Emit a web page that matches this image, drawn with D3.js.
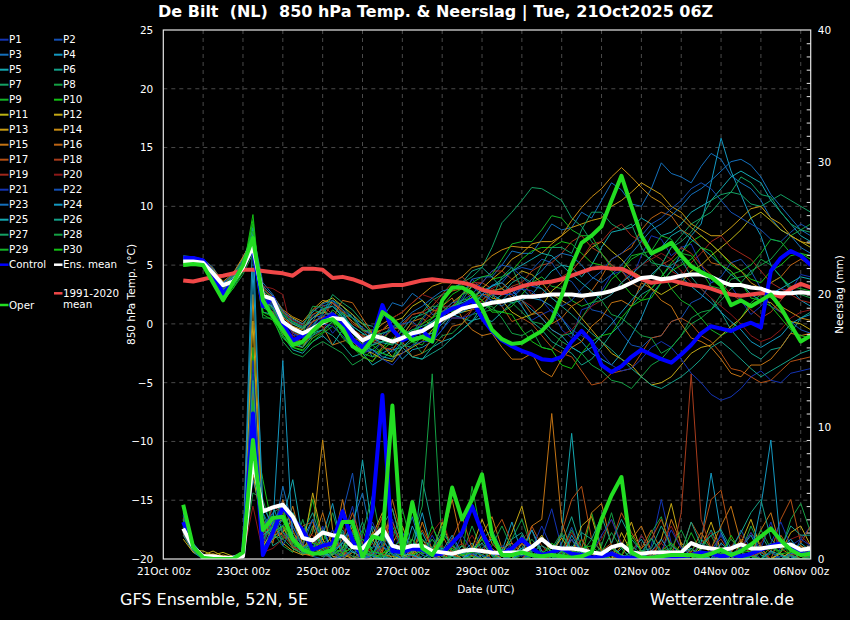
<!DOCTYPE html>
<html>
<head>
<meta charset="utf-8">
<script src="https://cdn.jsdelivr.net/npm/d3@7"></script>
<style>
  body { margin: 0; background: #000; }
  svg { display: block; }
  text { font-family: "DejaVu Sans", sans-serif; fill: #fff; }
</style>
</head>
<body>
<svg id="chart" width="850" height="620"></svg>
<script>
// forecast hours since 21Oct 00z, 6-hourly
const HOURS = [12,18,24,30,36,42,48,54,60,66,72,78,84,90,96,102,108,114,120,126,132,138,144,150,156,162,168,174,180,186,
  192,198,204,210,216,222,228,234,240,246,252,258,264,270,276,282,288,294,300,306,312,318,324,330,336,342,348,354,360,366,
  372,378,384,390];

const TICK_HOURS = [0,48,96,144,192,240,288,336,384];
const TICK_LABELS = ["21Oct 00z","23Oct 00z","25Oct 00z","27Oct 00z","29Oct 00z","31Oct 00z","02Nov 00z","04Nov 00z","06Nov 00z"];
const TEMP_TICKS = [-20,-15,-10,-5,0,5,10,15,20,25];
const RAIN_TICKS = [0,10,20,30,40];

// 850 hPa temperature (°C)
const ENS_MEAN_T = [5.3,5.3,5.2,4.3,3.3,3.6,4.8,6.6,2.4,2.1,0.2,-0.4,-0.8,-0.4,0.1,0.5,0.4,-0.6,-1.4,-1.0,
  -1.2,-1.5,-1.2,-0.8,-0.6,-0.1,0.4,0.8,1.3,1.5,1.6,1.8,1.9,2.1,2.3,2.3,2.4,2.5,2.5,2.5,
  2.4,2.5,2.6,2.8,3.1,3.5,3.9,4.0,3.8,3.9,4.1,4.2,4.2,4.0,3.6,3.3,3.3,3.1,3.0,2.7,2.6,2.6,2.7,2.6];
const CLIM_T = [3.7,3.6,3.8,4.0,4.1,4.3,4.6,4.6,4.5,4.4,4.3,4.1,4.7,4.7,4.6,3.9,4.0,3.8,3.5,3.1,
  3.2,3.3,3.3,3.5,3.7,3.8,3.7,3.6,3.5,3.3,2.9,2.7,2.6,2.9,3.2,3.4,3.5,3.6,3.8,4.1,
  4.4,4.7,4.8,4.7,4.7,4.3,3.8,3.5,3.6,3.7,3.5,3.3,3.2,3.0,2.7,2.5,2.4,2.5,2.6,2.6,2.3,3.0,3.4,3.1];
const CONTROL_T = [5.6,5.6,5.4,4.2,2.6,3.5,5.0,6.4,1.5,2.2,0.0,-1.4,-1.0,-0.5,0.3,0.8,0.1,-1.3,-2.0,-1.2,
  1.6,-0.5,-1.4,-1.0,-0.5,-1.5,0.8,1.3,1.5,2.0,0.5,-0.6,-1.4,-1.9,-2.3,-2.6,-3.0,-3.1,-2.8,-1.5,
  -0.6,-1.5,-3.5,-4.1,-3.6,-2.8,-2.2,-2.6,-3.0,-3.3,-2.6,-1.8,-0.8,-0.2,-0.4,-0.6,-0.2,0.1,-0.3,4.5,5.6,6.2,5.8,5.0];
const OPER_T = [5.0,5.1,5.0,3.5,2.0,3.5,5.0,7.3,2.0,0.6,-0.5,-1.8,-1.5,-0.6,0.2,0.4,-0.4,-1.9,-2.4,-1.3,
  1.0,0.4,-0.5,-1.4,-1.1,-1.5,2.0,3.1,3.1,2.6,1.3,-0.5,-1.3,-1.7,-1.6,-1.1,-0.6,0.3,2.4,5.0,
  6.9,7.5,8.3,10.5,12.6,10.0,7.5,6.0,6.4,6.9,5.8,4.9,4.4,4.0,3.3,1.6,2.0,1.5,2.0,2.5,1.4,-0.1,-1.5,-1.0];

// precipitation (mm)
const ENS_MEAN_R = [2.3,0.9,0.2,0.2,0.1,0.1,0.2,7.5,3.6,3.9,4.1,3.2,1.6,1.4,2.0,1.8,1.7,0.9,0.8,1.6,
  2.3,1.0,0.8,1.0,1.0,0.6,0.5,0.4,0.6,0.7,0.6,0.5,0.45,0.5,0.5,0.9,1.5,0.9,0.8,0.8,
  0.7,0.5,0.4,0.9,1.1,0.5,0.4,0.5,0.5,0.5,0.5,1.2,0.9,0.8,0.7,0.8,1.1,0.8,0.8,0.9,1.0,1.1,0.7,0.8];
const CONTROL_R = [2.8,0.9,0.1,0.0,0.0,0.1,0.3,11.0,0.3,2.0,3.9,3.0,2.2,0.7,1.0,1.2,3.6,1.4,0.1,3.7,
  12.4,0.6,0.5,0.8,0.7,0.3,0.4,1.2,2.0,4.0,2.0,0.5,0.4,0.8,1.5,0.8,0.3,0.5,0.8,0.4,
  0.3,0.1,0.2,0.4,0.1,0.1,0.1,0.1,0.2,0.1,0.2,0.3,0.5,0.4,0.2,0.3,0.2,0.4,0.7,1.0,1.2,0.9,0.4,0.4];
const OPER_R = [4.1,0.9,0.1,0.0,0.0,0.0,0.5,9.0,2.2,3.1,3.2,1.5,0.7,0.4,0.45,0.7,2.8,2.8,0.1,1.7,
  1.5,11.6,0.4,4.3,0.8,0.3,1.5,5.4,3.0,4.5,6.4,1.8,0.3,0.3,0.5,0.3,0.2,0.3,0.2,0.1,
  0.2,0.5,3.0,4.8,6.2,0.5,0.1,0.1,0.2,0.3,0.3,0.3,0.2,0.4,0.7,0.3,0.6,1.1,1.7,2.3,1.4,0.7,0.3,0.4];

// perturbed members: temperature (_T) and precipitation (_R)
const P1_T = [5.6,5.5,5.4,4.5,3.2,4.0,5.2,6.8,2.8,2.0,0.5,-0.8,-1.2,0.8,0.5,-0.8,0.2,-0.2,-2.0,-2.5,-1.5,0.2,-0.8,-1.2,0.3,1.5,1.0,0.8,2.2,3.8,3.0,1.8,2.5,3.2,1.5,0.3,0.8,1.2,-0.5,-1.2,1.2,1.5,2.8,4.2,4.5,3.8,5.8,7.5,7.2,5.8,6.5,6.8,5.0,3.5,3.8,3.2,2.0,0.8,1.5,2.6,3.0,2.8,4.2,4.0];
const P1_R = [2.5,0.8,0.1,0.0,0.0,0.1,0.2,9.0,1.5,3.0,2.5,1.0,0.5,0.8,2.5,0.3,1.5,4.0,0.5,0.0,1.2,3.0,0.4,0.0,0.2,1.8,0.3,0.0,0.0,0.5,2.2,0.6,0.0,0.0,0.3,0.0,1.5,3.8,0.8,0.0,0.2,0.0,0.0,0.6,0.2,0.0,0.0,1.0,4.5,1.2,0.0,0.3,0.0,0.0,2.0,0.5,0.0,0.0,0.8,2.8,0.4,0.0,1.5,2.5];
const P2_T = [5.3,5.4,5.2,4.0,2.6,3.5,4.8,7.5,1.8,1.2,-0.5,-1.0,-0.8,-0.2,1.0,2.0,0.8,-0.6,-1.2,-0.8,-2.0,-2.4,-1.5,-0.6,-1.0,-0.8,0.5,1.5,1.8,1.2,2.5,3.3,3.5,4.5,4.8,4.6,5.5,5.2,4.0,3.6,2.5,1.2,1.0,0.5,-0.8,-1.8,-2.0,-1.2,-1.0,0.2,0.5,1.8,2.2,3.5,4.0,5.2,5.5,4.5,3.0,1.5,1.0,0.2,-0.5,-0.8];
const P2_R = [3.0,1.0,0.2,0.1,0.0,0.0,0.3,14.0,0.5,2.0,4.5,2.0,1.0,0.2,0.0,1.0,3.5,6.5,1.0,0.3,0.0,0.5,2.0,0.8,0.0,0.0,0.4,1.6,0.2,0.0,0.0,0.0,0.3,1.2,0.4,0.0,0.0,0.0,0.6,2.4,0.5,0.0,0.0,0.0,0.2,0.0,1.8,0.6,0.0,0.0,0.0,0.3,0.0,0.0,0.0,0.5,2.2,0.7,0.0,0.0,0.2,0.0,0.8,0.3];
const P3_T = [5.8,5.7,5.5,4.8,3.5,4.2,5.5,7.8,3.5,2.5,1.0,0.2,-0.2,0.2,1.5,1.8,0.5,0.8,-0.5,-1.0,0.5,1.8,1.5,2.6,2.0,0.8,1.0,1.5,2.5,3.8,4.0,4.0,5.0,6.2,6.0,6.0,7.2,8.5,8.0,8.2,9.5,9.0,10.5,12.0,11.4,10.2,10.0,11.5,13.7,12.8,12.5,12.0,13.4,14.5,14.0,12.6,12.0,11.5,10.5,9.0,8.0,7.5,6.5,6.0];
const P3_R = [2.0,0.6,0.0,0.0,0.0,0.2,0.5,6.0,3.0,1.5,5.5,2.5,0.8,1.5,0.4,0.0,0.8,2.8,5.0,1.2,0.0,0.0,1.0,3.2,0.6,0.0,0.0,0.2,0.0,0.9,0.3,0.0,0.0,0.0,0.0,0.4,0.0,0.0,0.0,0.2,0.0,0.0,0.0,0.5,0.0,0.0,0.0,0.0,0.3,0.0,0.0,0.0,0.6,0.0,0.0,0.0,0.0,0.4,0.0,0.0,0.0,0.2,0.0,0.0];
const P4_T = [5.5,5.6,5.3,4.2,3.0,3.6,4.5,6.5,2.0,1.5,0.0,-1.5,-2.0,-0.8,-0.5,0.2,1.0,-0.5,-1.5,-2.8,-2.5,-2.0,-3.0,-2.2,-2.0,-1.5,-0.5,0.8,0.5,0.2,1.5,2.5,2.0,2.8,3.0,2.2,2.0,1.5,0.5,-0.8,-1.5,-2.5,-3.0,-3.5,-2.5,-1.0,0.5,2.5,3.5,4.5,6.0,7.5,8.5,12.0,15.8,13.0,11.0,9.0,7.5,5.0,4.0,3.0,2.0,1.5];
const P4_R = [3.5,1.2,0.3,0.1,0.0,0.0,0.4,25.0,2.0,4.0,2.0,1.5,0.5,0.5,1.8,4.2,0.6,0.0,0.3,2.5,1.0,0.0,0.0,0.8,3.5,0.5,0.0,0.2,1.0,0.2,0.0,0.0,0.6,2.8,0.4,0.0,0.0,0.0,0.3,1.5,0.2,0.0,0.0,0.0,0.8,0.0,0.0,0.0,0.0,0.5,0.0,0.3,1.2,6.5,2.0,0.4,0.0,0.0,0.6,0.0,0.0,0.3,0.8,0.2];
const P5_T = [5.2,5.3,5.1,3.8,2.4,3.2,4.6,8.0,1.0,0.8,-1.0,-2.2,-2.5,-1.5,-1.0,-1.8,-0.5,-1.0,-2.5,-3.5,-3.0,-2.2,-2.0,-2.8,-3.0,-2.0,-1.5,-1.2,-0.5,0.3,0.5,0.2,1.0,1.8,2.0,2.5,3.5,4.5,5.0,4.8,4.0,5.0,6.5,7.8,8.0,8.2,9.0,8.5,7.5,7.8,8.5,9.5,10.0,10.5,11.5,12.5,13.0,12.5,12.0,10.5,9.5,8.5,7.5,7.0];
const P5_R = [1.8,0.5,0.0,0.1,0.0,0.1,0.2,11.0,0.8,2.5,3.0,6.0,1.5,3.0,0.8,0.0,0.5,1.8,7.5,2.0,0.2,0.0,0.0,0.6,2.0,0.4,0.0,0.0,0.5,1.2,0.0,0.0,0.0,0.0,0.8,2.2,0.3,0.0,2.0,9.5,1.5,0.0,0.0,0.0,0.0,0.6,1.5,0.2,0.0,0.0,0.0,0.0,0.4,0.0,0.0,0.0,0.8,1.8,0.3,0.0,0.0,0.5,1.2,0.6];
const P6_T = [5.4,5.4,5.2,4.1,2.8,3.8,5.0,7.2,2.2,1.6,0.2,-0.6,-1.0,-0.2,0.8,2.0,1.5,0.5,0.0,-0.2,-1.0,-1.5,-0.5,0.5,0.8,1.2,2.0,3.0,3.5,4.5,4.8,4.0,3.0,2.5,1.5,0.2,-0.5,-1.5,-2.0,-2.5,-3.5,-3.0,-2.0,-0.8,0.0,1.5,2.5,3.0,4.0,5.0,5.5,4.0,3.0,2.2,1.0,-0.5,-1.5,-2.5,-3.0,-2.2,-2.0,-0.8,0.5,1.0];
const P6_R = [2.8,0.9,0.2,0.0,0.1,0.0,0.3,7.5,3.5,1.0,1.5,3.5,2.0,0.2,0.8,0.3,2.2,0.6,0.0,0.4,1.5,0.3,0.0,0.0,6.0,2.5,0.6,0.0,0.3,1.0,0.2,0.0,0.0,0.5,1.8,0.4,0.0,0.0,1.2,3.2,0.8,0.0,0.0,0.3,0.0,0.0,0.5,1.6,0.4,0.0,0.0,0.0,0.7,2.2,0.5,0.0,0.0,0.3,1.8,0.6,0.0,0.0,0.4,0.3];
const P7_T = [5.5,5.5,5.3,4.4,3.2,4.0,5.3,7.0,2.6,2.0,0.8,0.2,-0.3,0.5,1.2,1.5,0.8,-0.2,-0.8,-1.8,-1.5,-1.5,-1.0,0.2,1.0,2.0,2.5,2.8,3.5,4.0,4.8,6.5,8.6,9.5,10.5,11.6,11.5,11.0,10.5,9.0,8.3,7.0,6.0,5.0,4.5,3.5,3.0,4.0,5.0,6.5,7.5,8.5,9.0,9.5,10.5,11.2,11.0,10.2,10.0,10.5,11.0,10.5,10.0,9.5];
const P7_R = [2.2,0.7,0.1,0.0,0.0,0.1,0.6,12.0,1.2,3.5,4.0,1.0,0.3,2.5,0.6,0.0,0.3,1.0,2.8,0.5,0.0,0.0,0.2,0.0,0.0,0.6,0.0,0.0,0.0,0.0,0.3,0.0,0.0,0.0,0.0,0.0,0.0,0.2,0.0,0.0,0.0,0.0,0.0,0.4,0.0,0.0,0.0,0.0,0.0,0.0,0.3,0.0,0.0,0.0,0.0,0.0,0.0,0.0,0.5,0.0,0.0,0.0,0.0,0.2];
const P8_T = [5.0,5.1,4.9,3.6,2.0,3.0,4.2,6.0,0.5,0.5,-1.5,-2.5,-2.8,-2.0,-1.5,-2.0,-2.5,-3.5,-3.0,-2.2,-2.5,-2.8,-2.0,-1.5,-2.5,-2.0,-1.0,-0.8,0.0,0.8,1.0,1.2,2.0,1.8,1.0,0.2,0.0,-0.8,-1.5,-2.0,-2.5,-3.5,-4.0,-4.8,-5.0,-5.5,-4.5,-3.5,-3.0,-2.0,-1.0,0.0,0.5,1.2,2.0,3.0,3.5,4.5,5.0,5.5,6.5,7.5,8.0,8.5];
const P8_R = [3.2,1.1,0.2,0.1,0.0,0.0,0.2,5.0,4.5,2.0,1.0,0.5,3.0,0.5,1.2,3.5,0.8,0.0,2.0,4.8,1.0,0.3,0.0,1.5,4.0,14.0,0.8,0.0,0.3,2.5,0.6,0.0,0.5,1.5,3.0,0.8,0.0,0.0,0.6,2.2,0.4,0.0,1.0,3.5,0.8,0.0,0.3,2.0,3.2,0.6,0.0,0.0,0.8,1.8,0.3,0.0,0.5,2.5,0.8,0.0,0.6,3.0,4.2,2.0];
const P9_T = [5.1,5.2,5.0,3.9,2.2,3.3,4.8,8.5,1.5,1.0,-0.5,-1.6,-1.8,-1.0,0.0,1.2,0.5,-0.8,-1.8,-2.2,-1.5,-0.2,-0.5,-1.5,-1.8,-0.5,0.5,1.5,1.5,2.5,2.0,1.2,1.0,1.5,2.5,3.5,4.0,3.2,3.0,2.0,1.5,1.8,2.5,3.8,4.5,5.5,6.0,5.5,4.5,3.0,2.0,1.5,0.5,-0.5,-1.0,-0.5,0.5,1.8,2.5,3.5,4.0,3.2,3.0,2.8];
const P9_R = [2.4,0.8,0.1,0.0,0.0,0.1,0.4,16.0,2.5,3.0,1.5,2.0,1.2,4.5,1.0,0.2,0.0,0.8,2.2,0.4,0.0,1.5,3.8,0.8,0.0,0.0,0.4,1.2,0.2,5.5,1.5,0.2,0.0,0.0,0.3,0.6,1.8,0.4,0.0,0.0,0.0,3.5,0.8,0.2,0.0,0.0,0.5,0.0,0.0,0.0,0.3,2.0,0.5,0.0,0.0,0.6,0.0,0.0,0.0,0.4,1.2,0.3,0.0,0.5];
const P10_T = [4.9,5.0,4.9,3.5,1.9,3.0,4.5,9.3,0.8,0.3,-1.2,-2.0,-2.2,-1.5,-0.8,-0.2,-1.0,-2.0,-2.5,-2.8,-2.0,-1.2,-1.5,-1.0,-0.5,0.2,0.5,1.5,2.0,2.2,3.0,3.8,4.0,4.5,5.5,6.2,6.5,6.5,7.0,6.8,6.0,5.2,5.0,4.5,3.5,2.5,2.0,3.0,4.0,5.2,6.0,7.0,7.5,6.8,6.0,5.0,4.5,3.8,3.5,4.5,5.0,5.8,6.0,5.5];
const P10_R = [2.6,0.9,0.1,0.0,0.0,0.0,0.3,10.0,6.0,2.2,3.5,1.8,0.6,0.8,2.0,0.5,0.2,3.0,1.0,0.0,0.4,1.2,0.3,0.0,0.5,2.5,0.8,0.0,0.0,0.3,0.0,0.0,0.6,0.2,0.0,0.0,0.4,0.0,0.0,0.0,1.5,0.4,0.0,0.0,0.0,0.3,0.0,0.0,0.0,0.8,0.2,0.0,0.0,0.0,0.4,0.0,0.0,0.0,0.0,1.0,0.3,0.0,0.0,0.4];
const P11_T = [5.6,5.6,5.4,4.6,3.4,4.1,5.6,7.4,3.0,2.2,1.0,0.5,0.0,1.0,1.8,2.2,1.5,0.8,0.0,-0.8,-0.5,0.2,0.5,1.5,2.0,1.2,1.0,1.8,2.5,3.2,3.0,2.2,2.0,1.0,0.5,0.8,1.5,2.8,3.5,4.5,5.5,6.5,7.0,6.2,5.5,4.5,4.0,3.0,2.5,3.0,3.5,4.5,5.0,5.8,6.5,7.2,8.0,9.0,9.5,8.8,8.0,7.5,7.0,6.5];
const P11_R = [2.0,0.7,0.6,0.3,0.5,0.2,0.5,8.0,1.0,2.0,2.5,0.8,0.4,0.3,0.8,1.8,0.4,0.0,0.6,1.5,0.3,0.2,0.0,0.4,1.0,0.2,0.0,0.0,0.0,0.5,1.8,0.6,0.0,0.0,1.2,0.3,0.0,0.0,0.0,0.6,0.0,0.0,0.0,0.0,2.0,0.5,0.0,0.0,0.0,0.3,0.0,0.0,1.2,0.4,0.0,0.0,0.0,0.2,0.8,0.0,0.0,0.6,1.0,0.5];
const P12_T = [5.3,5.3,5.2,4.2,2.9,3.7,5.1,7.0,2.4,1.8,0.4,-0.5,-0.9,0.2,0.6,0.5,-0.5,-1.5,-2.2,-2.5,-3.0,-3.2,-2.0,-1.2,-1.0,-0.8,0.0,0.8,1.0,1.2,2.0,2.8,3.0,3.8,4.5,4.2,3.5,2.5,2.0,1.5,0.5,-0.5,-1.5,-2.5,-3.0,-3.5,-4.5,-5.2,-5.0,-4.5,-3.5,-2.5,-2.0,-1.8,-1.0,-0.2,0.5,1.5,2.0,1.8,1.0,0.2,0.0,-0.5];
const P12_R = [1.5,0.5,0.3,0.6,0.2,0.1,0.4,18.0,0.5,1.5,2.0,3.0,0.8,5.0,1.5,0.3,0.8,2.5,0.6,1.8,3.5,0.8,0.2,0.5,1.5,0.4,2.8,0.6,0.0,0.8,3.0,1.2,0.3,2.0,4.0,0.8,0.0,0.5,1.6,0.4,2.5,3.2,0.6,0.0,1.0,2.8,0.5,0.0,1.5,4.2,1.0,0.2,0.8,2.8,0.6,0.0,1.2,3.0,0.8,0.0,0.5,2.0,2.5,1.0];
const P13_T = [5.4,5.5,5.3,4.3,3.1,3.9,5.2,7.6,2.7,2.1,0.6,-0.2,-0.5,0.5,1.0,0.8,0.0,-0.5,-1.0,-1.5,-1.8,-2.8,-2.5,-2.0,-1.5,-0.5,0.0,1.0,1.5,2.0,3.0,3.8,4.5,5.5,6.0,6.8,7.0,7.0,7.5,8.2,8.5,8.8,9.0,10.0,10.5,11.2,12.0,11.5,11.0,10.0,9.5,8.5,8.0,7.5,7.5,8.2,9.0,9.8,10.0,9.0,8.5,7.5,7.0,6.8];
const P13_R = [2.2,0.6,0.2,0.4,0.1,0.0,0.3,6.5,2.0,2.8,1.2,0.6,0.3,0.6,1.5,0.2,0.0,0.5,0.2,0.0,0.0,1.2,2.5,0.4,0.0,0.0,0.3,0.0,0.0,0.0,0.0,0.4,0.0,0.0,0.0,0.0,0.3,0.0,0.0,0.0,0.0,0.0,0.5,0.0,0.0,0.0,0.0,0.2,0.0,0.0,0.0,0.0,0.0,0.3,0.0,0.0,0.0,0.0,0.0,0.0,0.4,0.0,0.0,0.2];
const P14_T = [5.7,5.6,5.5,4.7,3.6,4.3,5.7,7.2,3.2,2.4,1.2,0.6,0.2,1.2,2.0,1.8,1.0,0.2,-0.5,-0.8,0.0,0.5,1.0,1.8,2.5,3.2,3.5,3.5,4.0,4.8,5.0,5.8,6.3,6.6,6.5,6.5,6.0,6.8,7.5,8.8,9.9,10.8,11.5,12.5,13.3,12.5,11.6,10.8,10.3,9.5,9.0,8.2,7.5,6.8,6.0,5.2,4.5,3.5,3.0,2.2,1.5,1.0,0.5,0.3];
const P14_R = [2.7,0.9,0.2,0.1,0.3,0.1,0.2,20.0,1.8,2.5,3.0,1.5,0.7,2.0,9.0,2.2,0.5,0.8,0.3,1.5,3.2,0.6,0.0,0.3,0.8,0.2,0.0,1.0,0.3,0.0,0.0,0.4,0.0,0.0,0.0,0.8,1.8,0.3,0.0,0.0,0.0,0.5,0.0,0.0,0.0,0.0,0.0,0.3,0.0,0.0,1.2,0.4,0.0,0.0,0.0,0.0,0.6,0.0,0.0,0.0,0.0,0.3,0.0,0.2];
const P15_T = [5.2,5.2,5.0,3.9,2.5,3.4,4.7,6.4,1.6,1.0,-0.8,-1.8,-2.0,-0.5,-0.2,-1.8,-1.5,-1.2,-2.8,-3.2,-2.0,-2.2,-1.0,0.2,0.5,-0.2,1.5,2.2,0.5,-0.5,-1.0,-0.8,-2.0,-3.0,-3.0,-2.5,-4.0,-4.5,-3.0,-2.0,-1.5,-0.2,0.5,1.8,2.0,1.5,3.5,3.0,2.0,1.5,0.0,-1.2,-1.5,-2.0,-3.0,-4.2,-4.5,-3.5,-3.5,-3.0,-2.0,-0.8,-1.0,-0.8];
const P15_R = [2.9,1.0,0.2,0.0,0.2,0.0,0.3,13.0,2.2,1.8,2.0,4.0,1.0,1.2,3.5,0.8,4.5,1.0,0.3,2.0,0.5,3.8,1.2,0.3,2.8,0.6,1.5,4.5,1.0,0.2,1.8,3.2,0.8,1.2,0.4,2.5,3.0,11.0,2.8,0.5,0.8,3.5,4.2,1.0,0.2,1.5,2.5,0.6,0.3,3.0,1.2,0.5,2.0,0.8,2.5,4.0,1.2,0.3,2.2,3.5,0.8,0.3,1.0,0.6];
const P16_T = [5.5,5.4,5.3,4.4,3.0,3.9,5.2,7.0,2.5,1.9,0.5,0.0,-0.4,0.8,1.2,0.5,2.0,1.8,0.5,-0.8,-0.5,-0.2,-1.5,-2.8,-2.5,-1.2,-1.5,-0.2,0.0,1.2,1.5,2.8,3.0,2.2,2.0,0.8,1.0,0.0,0.5,1.5,2.0,2.8,4.0,5.5,6.0,6.5,8.0,9.0,9.5,9.2,8.0,7.5,6.5,5.2,5.0,4.5,3.5,2.5,2.5,3.5,4.0,5.0,5.5,5.0];
const P16_R = [1.9,0.6,0.1,0.2,0.0,0.0,0.2,9.5,3.0,1.2,4.5,2.2,0.4,0.2,1.0,0.5,0.0,2.2,0.6,0.0,0.5,4.5,1.5,0.2,0.0,0.6,1.8,0.4,0.0,0.0,0.3,0.8,0.2,0.0,0.0,0.0,0.4,0.0,0.0,1.5,0.5,0.0,0.0,0.0,0.3,0.0,0.8,2.2,0.6,0.0,0.0,0.3,0.0,0.0,0.0,0.5,1.5,0.3,0.0,0.0,1.8,0.6,0.0,0.3];
const P17_T = [5.3,5.3,5.1,4.0,2.7,3.6,4.9,7.8,2.0,1.4,0.0,-1.2,-1.5,-0.8,0.3,0.8,-0.3,-1.2,-1.5,-0.5,-1.0,-1.5,0.0,0.8,1.0,0.5,2.0,2.8,3.0,2.2,2.5,2.5,1.5,0.2,0.5,0.0,-1.0,-2.0,-2.5,-2.8,-4.0,-5.2,-5.0,-4.2,-4.0,-3.8,-2.5,-1.2,-1.0,0.2,0.5,0.0,-1.0,-1.5,-2.5,-3.8,-4.0,-4.5,-5.0,-4.8,-4.0,-3.2,-3.0,-2.8];
const P17_R = [3.1,1.0,0.2,0.1,0.0,0.1,0.4,12.5,1.0,3.0,2.0,1.2,2.5,2.8,1.0,0.5,1.5,3.5,1.2,0.3,0.8,2.8,1.0,0.6,2.2,0.8,0.2,1.5,3.2,0.8,0.5,1.8,3.0,1.2,0.4,2.5,1.0,0.3,2.0,4.5,5.5,1.5,0.6,1.2,3.5,2.0,0.8,1.5,3.0,1.0,0.5,2.8,1.5,4.5,5.2,1.5,0.8,2.0,1.0,0.5,3.0,4.5,1.2,2.5];
const P18_T = [5.4,5.5,5.2,4.2,3.0,3.8,5.0,6.8,2.4,1.7,0.3,-0.7,-1.1,0.2,0.5,1.8,1.2,0.0,-0.5,-1.5,-1.2,-0.5,-0.2,0.8,1.0,1.5,2.5,3.5,4.0,3.2,3.5,3.0,2.5,3.2,3.5,4.5,5.0,5.2,6.0,7.0,7.5,6.5,6.0,5.0,4.5,3.5,3.0,4.2,5.0,5.5,6.5,6.0,5.0,4.2,3.5,2.5,2.0,1.2,0.5,1.0,2.0,3.0,3.5,3.2];
const P18_R = [2.3,0.8,0.2,0.0,0.1,0.0,0.3,7.0,2.8,2.2,1.8,0.9,0.6,0.5,0.2,1.5,0.6,0.0,0.3,1.2,0.4,0.0,0.8,0.2,0.0,0.6,1.0,0.3,0.0,0.2,0.8,0.0,0.0,0.5,1.2,0.3,0.0,0.0,0.0,0.6,1.5,0.4,0.0,0.0,0.3,0.0,0.0,0.5,0.0,0.0,3.5,14.0,3.0,0.8,1.5,0.3,0.0,0.2,0.5,0.0,0.0,0.3,0.6,0.3];
const P19_T = [5.6,5.7,5.4,4.5,3.3,4.1,5.4,7.3,3.0,2.3,1.0,0.3,-0.1,1.2,1.6,0.8,0.3,-0.8,-1.2,-1.0,-2.0,-2.2,-1.2,-0.2,0.0,1.0,1.5,1.5,2.5,3.5,3.5,4.5,4.5,3.8,3.5,2.5,2.5,3.5,4.0,4.5,5.5,6.8,7.0,8.0,8.5,7.5,7.0,6.0,5.5,4.5,4.0,5.2,6.0,7.0,7.5,6.5,6.0,5.5,4.5,3.5,3.0,2.5,2.0,1.8];
const P19_R = [2.6,0.9,0.1,0.0,0.0,0.1,0.2,10.5,1.5,4.0,3.5,1.0,0.5,1.5,0.4,0.0,0.6,0.2,0.0,1.5,3.2,0.8,0.0,0.0,0.5,0.3,0.0,0.6,1.2,0.3,0.0,0.0,0.4,0.0,0.0,1.0,0.3,0.0,0.0,0.5,0.0,0.0,0.0,0.8,0.2,0.0,0.0,0.4,1.2,0.3,0.0,0.0,0.0,0.6,0.0,0.0,0.0,0.3,0.8,0.0,0.0,0.4,0.8,0.4];
const P20_T = [5.2,5.3,5.1,3.9,2.6,3.5,4.8,7.0,3.2,3.0,2.5,-1.0,-1.5,-1.2,-0.5,0.8,0.5,-0.5,-1.0,-1.2,-0.5,0.5,1.0,1.8,2.5,2.2,1.5,0.5,0.5,1.2,2.0,3.0,3.5,2.5,2.0,1.5,0.5,-0.5,-1.0,-0.5,0.5,1.5,2.0,2.5,3.5,4.5,5.0,5.5,6.0,5.5,4.5,3.5,3.0,2.2,1.5,0.8,0.0,-1.0,-1.5,-1.2,-0.5,0.5,1.0,1.2];
const P20_R = [2.1,0.7,0.1,0.0,0.0,0.0,0.2,4.0,0.5,0.8,1.5,3.0,1.8,1.8,0.6,1.2,2.5,0.8,1.5,0.4,1.0,2.2,0.6,1.5,0.8,2.0,3.0,0.8,0.6,1.8,0.5,1.2,0.4,0.8,1.5,2.2,0.6,1.0,0.4,2.0,0.8,0.5,1.5,3.0,1.2,0.4,1.8,0.6,1.2,2.5,0.8,0.4,1.2,2.0,0.6,1.0,1.8,0.5,1.2,2.5,0.8,1.5,1.8,1.0];
const P21_T = [5.5,5.5,5.3,4.3,3.0,3.9,5.1,6.5,2.2,1.6,0.2,-0.8,-1.2,-0.8,0.0,-0.2,-1.0,-2.0,-2.5,-2.2,-3.0,-3.5,-2.5,-1.8,-1.5,-1.5,-0.5,0.5,0.5,0.8,1.5,2.5,2.5,2.5,3.0,2.8,2.0,1.0,0.5,-0.5,-1.0,-1.5,-2.5,-3.5,-4.0,-3.8,-3.0,-2.0,-1.5,-2.0,-3.0,-4.2,-5.0,-6.0,-6.5,-6.2,-5.5,-4.5,-4.0,-4.8,-5.0,-4.2,-4.0,-3.8];
const P21_R = [2.7,0.9,0.2,0.0,0.0,0.1,0.3,15.0,1.2,2.8,2.0,1.5,0.6,0.6,1.0,2.2,0.5,1.5,0.3,2.8,1.0,0.4,2.0,0.8,0.3,1.5,0.6,0.2,1.8,0.6,0.3,0.0,1.0,0.6,0.2,0.8,2.5,0.8,0.3,1.5,0.5,0.4,1.8,3.0,1.0,0.3,0.5,1.5,0.6,2.2,0.8,0.3,1.2,0.6,1.8,0.4,0.8,2.0,0.6,1.2,2.8,1.0,1.5,1.0];
const P22_T = [5.4,5.4,5.2,4.1,2.8,3.7,5.0,7.1,2.3,1.7,0.3,-0.5,-0.9,0.0,0.7,1.0,0.3,-0.8,-1.5,-1.8,-1.0,-0.2,0.0,0.2,-0.5,0.2,1.0,1.8,2.0,2.5,3.5,4.5,5.0,4.8,4.0,3.2,3.0,2.2,1.5,2.0,3.0,3.8,4.5,5.5,6.0,6.8,7.5,8.5,9.0,9.8,10.5,11.5,12.0,11.5,10.5,9.5,9.0,8.5,8.0,7.2,7.0,7.8,8.5,8.0];
const P22_R = [3.3,1.1,0.2,0.1,0.0,0.0,0.5,8.5,2.5,3.5,1.0,2.5,1.0,3.0,1.2,0.5,0.0,0.8,0.3,0.0,1.0,0.4,0.0,0.3,0.0,0.6,0.2,0.0,0.0,0.5,0.0,0.0,0.0,0.0,0.4,0.0,0.0,0.0,0.3,1.0,0.2,0.0,0.0,0.0,0.0,0.4,0.0,0.0,0.0,0.0,0.6,0.0,0.0,0.0,0.3,0.0,0.0,0.0,0.0,0.5,0.0,0.0,0.0,0.2];
const P23_T = [5.6,5.6,5.4,4.6,3.4,4.2,5.5,7.5,3.2,2.4,1.1,0.4,0.0,1.0,1.7,2.0,1.2,0.5,-0.3,-1.0,-0.8,-0.5,0.2,1.0,1.5,2.2,2.8,3.0,3.5,3.2,2.5,2.0,1.5,2.2,3.0,3.8,4.5,5.5,6.0,5.8,5.0,4.0,3.5,4.2,5.0,6.0,7.0,8.0,8.5,9.2,10.0,11.0,11.5,12.2,13.0,13.8,14.0,13.5,12.5,11.0,10.0,9.0,8.0,7.5];
const P23_R = [2.0,0.6,0.1,0.0,0.0,0.0,0.3,11.5,3.5,2.0,3.0,1.8,0.8,1.2,0.5,0.0,0.2,0.6,0.0,0.3,1.5,0.4,0.0,0.0,0.8,0.2,0.0,0.0,0.0,0.4,0.0,0.0,0.0,0.0,0.0,0.3,0.0,0.0,0.0,0.0,0.5,0.0,0.0,0.0,0.0,0.0,0.2,0.0,0.0,0.0,0.0,0.3,0.0,0.0,0.0,0.0,0.5,0.0,0.0,0.0,0.0,0.4,0.6,0.3];
const P24_T = [5.3,5.4,5.2,4.0,2.7,3.6,4.9,7.7,2.0,1.4,-0.2,-1.3,-1.6,-0.8,0.2,0.5,-0.6,-1.5,-2.0,-2.2,-2.8,-3.0,-2.0,-1.2,-1.0,-0.8,0.0,0.8,1.0,1.5,2.5,3.2,3.5,2.8,2.0,1.2,0.5,-0.5,-1.0,-2.0,-2.5,-2.0,-1.0,0.0,1.0,2.0,3.0,4.2,5.0,4.8,4.0,3.2,2.5,1.8,1.0,0.2,-0.5,-1.5,-2.0,-1.5,-1.0,0.0,0.5,0.8];
const P24_R = [2.5,0.8,0.2,0.0,0.1,0.1,0.4,22.0,4.0,2.5,15.0,1.2,0.5,1.5,2.2,0.6,1.2,2.8,0.4,0.3,2.0,0.6,0.0,2.5,0.8,0.3,0.6,1.8,0.4,0.0,0.8,1.5,0.3,0.0,0.5,2.2,0.6,0.0,0.0,1.8,0.5,0.2,0.0,1.0,0.3,0.0,0.0,0.6,1.5,0.4,0.0,0.8,0.2,0.0,1.2,0.5,0.0,0.3,4.0,9.0,0.8,1.5,0.4,0.6];
const P25_T = [5.5,5.5,5.3,4.4,3.1,4.0,5.3,7.2,2.6,2.0,0.7,0.0,-0.4,0.5,1.3,1.5,0.6,-0.2,-0.8,-1.2,-1.6,-1.8,-1.0,-0.5,-0.2,0.2,0.8,1.5,1.8,2.2,2.8,3.2,3.8,4.5,5.0,5.5,6.0,5.8,5.0,4.2,3.5,2.8,2.0,2.5,3.5,4.2,5.0,5.8,6.5,7.5,8.0,7.2,6.5,5.8,5.0,4.2,3.5,2.5,2.0,2.5,3.0,3.5,4.0,3.8];
const P25_R = [2.8,0.9,0.1,0.0,0.0,0.0,0.2,9.0,1.8,2.4,3.2,1.4,0.7,0.9,0.3,0.4,1.2,0.5,0.6,0.2,0.0,1.0,0.4,0.3,0.0,0.5,0.8,0.2,0.0,0.6,1.2,0.3,0.0,0.4,0.8,0.2,0.0,0.0,0.6,0.3,0.0,0.0,0.0,0.8,0.3,0.0,0.4,0.0,0.0,0.0,0.5,0.8,0.2,0.0,0.0,0.5,0.2,0.0,0.0,0.6,0.3,0.0,0.4,0.3];
const P26_T = [5.2,5.2,5.0,3.8,2.4,3.3,4.6,8.2,1.4,0.9,-0.7,-1.7,-2.0,-1.0,-0.5,-1.0,-1.8,-2.8,-2.5,-1.8,-1.5,-1.5,-2.0,-2.8,-3.0,-2.5,-2.0,-1.2,-0.5,0.2,1.0,1.8,2.5,3.5,4.0,3.5,3.0,2.2,1.5,0.8,0.0,-0.8,-1.5,-2.2,-3.0,-3.8,-4.5,-5.2,-5.5,-5.0,-4.5,-3.8,-3.0,-2.0,-1.5,-2.2,-3.0,-3.8,-4.5,-4.0,-3.5,-3.0,-2.5,-2.2];
const P26_R = [3.0,1.0,0.2,0.0,0.0,0.1,0.3,13.5,0.8,1.5,2.5,3.5,2.0,3.5,1.2,1.0,2.0,0.8,1.5,0.8,2.5,3.8,1.0,0.5,1.5,0.8,2.0,1.0,0.4,0.5,1.5,2.2,0.6,1.5,2.0,0.5,1.0,0.6,1.8,0.8,2.0,1.5,3.2,1.2,3.0,1.5,0.6,0.8,2.5,1.0,0.5,2.8,1.0,1.8,2.2,0.8,2.0,3.5,4.5,1.5,0.8,2.5,1.8,1.8];
const P27_T = [5.4,5.5,5.3,4.2,2.9,3.8,5.1,6.9,2.4,1.8,0.4,-0.4,-0.8,1.2,0.9,2.5,1.8,1.2,0.2,-1.0,-0.8,-0.5,-1.8,-2.0,-1.0,0.2,0.5,0.8,2.0,3.2,3.0,2.2,4.0,4.8,3.0,3.5,5.0,6.5,6.5,6.0,8.0,9.5,9.5,8.5,8.0,8.5,6.5,5.2,5.0,6.5,7.0,7.8,9.0,10.5,11.0,11.2,12.5,12.0,11.0,10.8,9.5,8.5,8.0,7.8];
const P27_R = [2.4,0.8,0.1,0.0,0.0,0.0,0.2,7.0,2.2,1.8,1.5,0.8,0.4,0.5,0.2,0.3,0.8,0.2,0.0,0.6,0.3,0.0,0.5,1.0,0.3,0.0,0.0,0.2,0.0,0.0,0.0,0.6,0.2,0.0,0.0,0.0,0.0,0.4,0.0,0.0,0.0,0.0,0.0,0.3,0.0,0.0,0.0,0.2,0.0,0.0,0.0,0.0,0.0,0.4,0.0,0.0,0.0,0.2,0.0,0.0,0.0,0.3,0.0,0.2];
const P28_T = [5.6,5.6,5.4,4.5,3.2,4.1,5.4,7.4,2.9,2.2,0.9,0.1,-0.3,1.5,1.4,0.2,0.9,0.5,-0.6,-0.5,-1.4,-1.8,-0.5,-0.8,0.5,1.5,1.5,1.0,2.5,2.8,1.5,1.5,0.5,-0.8,-1.0,-0.5,-2.0,-2.2,-1.0,-0.8,0.5,1.8,2.0,0.8,0.5,-0.2,-1.0,-1.2,-2.5,-2.0,-1.0,0.5,1.0,1.2,2.5,3.8,4.0,4.2,5.5,5.0,4.0,2.8,2.5,2.2];
const P28_R = [2.9,1.0,0.2,0.1,0.0,0.1,0.3,10.0,2.0,3.0,2.0,1.0,0.8,1.5,0.8,0.6,0.3,1.8,0.6,0.5,1.0,2.5,0.8,1.5,0.5,0.8,2.5,0.6,1.0,0.5,0.3,1.0,2.5,0.8,0.3,1.5,0.5,0.8,2.0,0.6,0.4,1.5,0.5,2.0,0.8,1.0,0.4,1.5,0.6,0.8,2.2,0.6,1.5,0.8,0.4,1.5,0.6,0.8,2.2,0.8,0.6,1.0,0.8,0.8];
const P29_T = [5.3,5.3,5.1,4.0,2.6,3.5,4.8,7.9,1.9,1.3,-0.3,-1.4,-1.7,-0.5,0.1,0.5,-0.8,-1.2,-2.2,-1.8,-2.5,-2.8,-1.5,-0.5,-0.5,0.5,1.0,1.2,2.5,3.5,4.0,4.2,5.5,6.8,7.0,7.0,8.0,9.2,9.0,8.0,7.5,7.5,6.0,4.8,4.5,5.8,6.0,6.2,7.5,7.2,6.0,5.8,4.5,3.2,3.0,4.2,4.5,5.0,6.0,7.2,7.0,6.0,6.0,5.8];
const P29_R = [2.2,0.7,0.1,0.0,0.0,0.0,0.4,12.0,1.5,2.5,3.8,1.6,0.5,1.0,0.6,0.4,0.8,2.0,0.5,0.3,0.2,0.5,0.3,1.5,0.4,0.6,0.2,0.0,0.0,0.2,0.0,0.0,0.5,0.0,0.0,0.2,0.0,0.0,0.5,0.0,0.0,0.0,0.3,0.0,0.0,0.6,0.0,0.0,0.0,0.3,0.0,0.0,0.0,0.5,0.0,0.0,0.0,0.2,0.0,0.0,0.0,0.0,0.0,0.1];
const P30_T = [5.1,5.1,4.9,3.7,2.2,3.2,4.5,8.8,1.0,0.6,-1.0,-2.0,-2.3,-1.2,-0.7,0.2,-1.2,-2.0,-2.8,-3.2,-2.2,-1.5,-1.2,-1.0,0.0,0.5,1.5,2.5,3.0,2.8,2.0,1.0,1.0,0.8,-0.5,-1.5,-2.0,-2.2,-3.5,-3.8,-2.5,-1.5,-1.0,-0.8,0.5,1.5,2.0,2.2,3.5,4.5,5.0,5.5,6.5,6.2,5.0,4.5,3.5,2.2,2.0,1.5,0.5,-0.5,-1.0,-1.2];
const P30_R = [2.6,0.9,0.1,0.0,0.0,0.1,0.3,8.0,2.8,2.0,2.5,1.2,0.6,1.2,1.0,0.8,0.5,0.8,1.5,0.6,0.4,0.8,1.5,0.3,0.6,1.5,0.4,0.8,0.3,0.5,1.5,0.6,0.3,0.5,1.5,0.8,0.3,1.2,0.6,0.2,0.8,1.0,0.3,0.8,0.3,1.8,0.6,0.4,0.6,1.2,0.5,0.3,1.0,0.8,0.3,1.8,0.5,0.6,0.6,1.2,0.4,0.5,0.8,0.6];

const MEMBER_NAMES = ["P1","P2","P3","P4","P5","P6","P7","P8","P9","P10","P11","P12","P13","P14","P15",
  "P16","P17","P18","P19","P20","P21","P22","P23","P24","P25","P26","P27","P28","P29","P30"];
const MEMBER_TEMPS = [P1_T,P2_T,P3_T,P4_T,P5_T,P6_T,P7_T,P8_T,P9_T,P10_T,P11_T,P12_T,P13_T,P14_T,P15_T,
  P16_T,P17_T,P18_T,P19_T,P20_T,P21_T,P22_T,P23_T,P24_T,P25_T,P26_T,P27_T,P28_T,P29_T,P30_T];
const MEMBER_RAINS = [P1_R,P2_R,P3_R,P4_R,P5_R,P6_R,P7_R,P8_R,P9_R,P10_R,P11_R,P12_R,P13_R,P14_R,P15_R,
  P16_R,P17_R,P18_R,P19_R,P20_R,P21_R,P22_R,P23_R,P24_R,P25_R,P26_R,P27_R,P28_R,P29_R,P30_R];

// colours: P1..P20, P21..P30 reuse the first ten
var palette = ["#1434b4","#1450b4","#1470bc","#1498c0","#14a8b0","#14a088","#14a064","#14a044","#14b428","#14c014",
  "#bcb414","#c4a814","#c89c14","#c88c14","#c47414","#bc6414","#b45014","#a83c1c","#a0281c","#8c1818"];
function memberColor(i) { return i < 20 ? palette[i] : palette[i - 20]; }

/********* CANVAS ***********/
var plotLeft = 163.3, plotRight = 810.7, plotTop = 30, plotBottom = 559;
var svg = d3.select("#chart");
svg.append("rect").attr("width", 850).attr("height", 620).attr("fill", "#000");

var x = d3.scaleLinear().domain([0, 390]).range([plotLeft, plotRight]);
var yT = d3.scaleLinear().domain([-20, 25]).range([plotBottom, plotTop]);
var yR = d3.scaleLinear().domain([0, 40]).range([plotBottom, plotTop]);

svg.append("defs").append("clipPath").attr("id", "plotclip")
  .append("rect").attr("x", plotLeft).attr("y", plotTop)
  .attr("width", plotRight - plotLeft).attr("height", plotBottom - plotTop);

/********* GRID ***********/
var grid = svg.append("g").attr("stroke", "#4a4a4a").attr("stroke-dasharray", "4,4").attr("stroke-width", 1);
grid.selectAll("line.v").data(d3.range(24, 390, 24)).join("line").attr("class", "v")
  .attr("x1", d => x(d)).attr("x2", d => x(d)).attr("y1", plotTop).attr("y2", plotBottom);
grid.selectAll("line.h").data(TEMP_TICKS.slice(1, -1)).join("line").attr("class", "h")
  .attr("x1", plotLeft).attr("x2", plotRight).attr("y1", d => yT(d)).attr("y2", d => yT(d));

/********* SERIES ***********/
var plot = svg.append("g").attr("clip-path", "url(#plotclip)");

function drawLine(values, yScale, color, width) {
  plot.append("path")
    .datum(d3.zip(HOURS, values))
    .attr("d", d3.line().x(d => x(d[0])).y(d => yScale(d[1])))
    .attr("fill", "none")
    .attr("stroke", color)
    .attr("stroke-width", width)
    .attr("stroke-linejoin", "round");
}

for (let i = 0; i < MEMBER_NAMES.length; i++) {
  drawLine(MEMBER_RAINS[i], yR, memberColor(i), 1);
  drawLine(MEMBER_TEMPS[i], yT, memberColor(i), 1);
}
drawLine(CLIM_T, yT, "#f04848", 4);
drawLine(CONTROL_R, yR, "#0000ff", 4);
drawLine(CONTROL_T, yT, "#0000ff", 4);
drawLine(ENS_MEAN_R, yR, "#ffffff", 4);
drawLine(ENS_MEAN_T, yT, "#ffffff", 4);
drawLine(OPER_R, yR, "#22dd22", 4);
drawLine(OPER_T, yT, "#22dd22", 4);

/********* AXES ***********/
svg.append("rect").attr("x", plotLeft).attr("y", plotTop)
  .attr("width", plotRight - plotLeft).attr("height", plotBottom - plotTop)
  .attr("fill", "none").attr("stroke", "#e6e6e6").attr("stroke-width", 1.2);

function styleAxis(g) {
  g.select(".domain").remove();
  g.selectAll("text").attr("fill", "#fff").style("font-size", "10.5px").style("font-family", "DejaVu Sans");
}

svg.append("g").attr("transform", "translate(" + plotLeft + ",0)")
  .call(d3.axisLeft(yT).tickValues(TEMP_TICKS).tickSize(0).tickPadding(10))
  .call(styleAxis);

svg.append("g").attr("transform", "translate(" + plotRight + ",0)")
  .call(d3.axisRight(yR).tickValues(RAIN_TICKS).tickSize(0).tickPadding(7))
  .call(styleAxis);

// little inward ticks every mm on the rain axis
svg.append("g").attr("transform", "translate(" + plotRight + ",0)")
  .call(d3.axisLeft(yR).tickValues(d3.range(1, 40)).tickSize(4).tickFormat(""))
  .call(g => g.select(".domain").remove())
  .selectAll("line").attr("stroke", "#e6e6e6");

svg.append("g").attr("transform", "translate(0," + plotBottom + ")")
  .call(d3.axisBottom(x).tickValues(TICK_HOURS).tickFormat((d, i) => TICK_LABELS[i]).tickSize(0).tickPadding(9))
  .call(styleAxis);

svg.append("text").attr("x", 486).attr("y", 593).attr("text-anchor", "middle")
  .style("font-size", "10.5px").text("Date (UTC)");

svg.append("text").attr("transform", "translate(135,294.5) rotate(-90)").attr("text-anchor", "middle")
  .style("font-size", "10.5px").text("850 hPa Temp. (°C)");

svg.append("text").attr("transform", "translate(843,294.5) rotate(-90)").attr("text-anchor", "middle")
  .style("font-size", "10.5px").text("Neerslag (mm)");

/********* TITLES ***********/
svg.append("text").attr("x", 158).attr("y", 17).style("white-space", "pre").attr("xml:space", "preserve")
  .style("font-size", "16px").style("font-weight", "bold")
  .text("De Bilt  (NL)  850 hPa Temp. & Neerslag | Tue, 21Oct2025 06Z");

svg.append("text").attr("x", 120).attr("y", 605).style("font-size", "16px").attr("fill", "#e8e8e8")
  .text("GFS Ensemble, 52N, 5E");
svg.append("text").attr("x", 650).attr("y", 605).style("font-size", "16px").attr("fill", "#e8e8e8")
  .text("Wetterzentrale.de");

/********* LEGEND ***********/
var legend = svg.append("g").style("font-size", "10.3px");
function legendItem(lx, ly, color, label, width) {
  legend.append("line").attr("x1", lx).attr("x2", lx + 8.5).attr("y1", ly).attr("y2", ly)
    .attr("stroke", color).attr("stroke-width", width);
  legend.append("text").attr("x", lx + 9).attr("y", ly).attr("dy", "0.36em").text(label);
}
for (let i = 0; i < MEMBER_NAMES.length; i++) {
  var col = i % 2, row = Math.floor(i / 2);
  legendItem(col ? 54 : 0, 39.7 + row * 15, memberColor(i), MEMBER_NAMES[i], 2);
}
legendItem(0, 264.7, "#0000ff", "Control", 2.5);
legendItem(54, 264.7, "#ffffff", "Ens. mean", 2.5);
legendItem(54, 293.3, "#f04848", "1991-2020", 2.5);
legend.append("text").attr("x", 63).attr("y", 304).attr("dy", "0.36em").text("mean");
legendItem(0, 305, "#22dd22", "Oper", 2.5);
</script>
</body>
</html>
